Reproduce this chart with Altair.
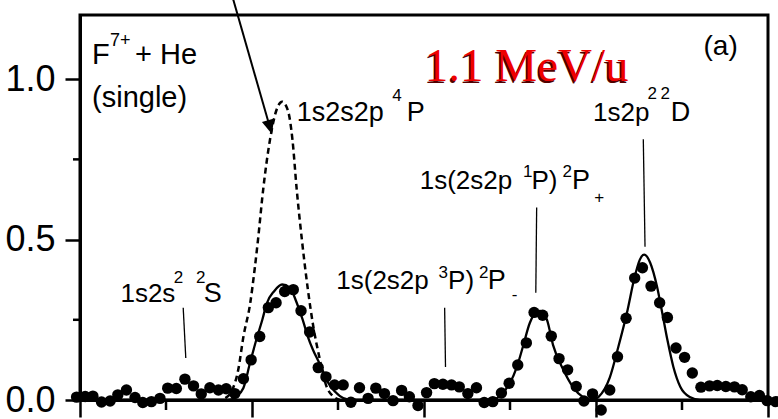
import altair as alt
import pandas as pd

# ---------------- data ----------------
dot_x = [-0.04, 0.06, 0.15, 0.25, 0.35, 0.44, 0.54, 0.64, 0.73, 0.83,
         0.93, 1.02, 1.12, 1.22, 1.32, 1.41, 1.51, 1.61, 1.70, 1.80,
         1.90, 1.99, 2.09, 2.19, 2.28, 2.38, 2.48, 2.57, 2.67, 2.77,
         2.86, 2.96, 3.06, 3.15, 3.25, 3.35, 3.44, 3.54, 3.64, 3.74,
         3.83, 3.93, 4.03, 4.12, 4.22, 4.32, 4.41, 4.51, 4.61, 4.70,
         4.80, 4.90, 4.99, 5.09, 5.19, 5.28, 5.38, 5.48, 5.57, 5.67,
         5.77, 5.86, 5.96, 6.06, 6.16, 6.25, 6.35, 6.45, 6.54, 6.64,
         6.74, 6.83, 6.93, 7.03, 7.12, 7.22, 7.32, 7.41, 7.51, 7.61,
         7.70, 7.80, 7.90, 7.99, 8.09]
dot_y = [0.009, 0.011, 0.012, -0.006, -0.003, 0.016, 0.031, 0.008, -0.008, -0.005,
         0.005, 0.037, 0.036, 0.065, 0.044, 0.019, 0.038, 0.031, 0.035, 0.020,
         0.066, 0.125, 0.198, 0.288, 0.303, 0.338, 0.344, 0.278, 0.212, 0.101,
         0.072, 0.047, 0.047, -0.007, 0.038, 0.005, 0.037, 0.020, -0.002, 0.030,
         0.010, -0.017, 0.023, 0.051, 0.049, 0.047, 0.041, 0.020, 0.038, -0.008,
         -0.005, 0.022, 0.052, 0.109, 0.178, 0.273, 0.264, 0.199, 0.129, 0.094,
         0.042, -0.003, 0.019, -0.031, 0.031, 0.135, 0.255, 0.380, 0.412, 0.355,
         0.303, 0.257, 0.162, 0.133, 0.084, 0.040, 0.044, 0.045, 0.042, 0.041,
         0.032, 0.010, 0.014, -0.002, -0.005]

fit_x = [-0.05, 1.72, 1.81, 1.90, 1.98, 2.06, 2.12, 2.17, 2.26, 2.35,
         2.44, 2.52, 2.59, 2.65, 2.71, 2.77, 2.83, 2.88, 2.97, 3.06,
         3.16, 4.80, 4.88, 5.00, 5.08, 5.15, 5.23, 5.31, 5.35, 5.43,
         5.50, 5.62, 5.73, 5.85, 5.95, 6.03, 6.16, 6.26, 6.36, 6.45,
         6.51, 6.56, 6.63, 6.71, 6.77, 6.83, 6.90, 6.98, 7.09, 7.21, 8.0]
fit_y = [0, 0, 0.009, 0.0375, 0.119, 0.197, 0.25, 0.30, 0.34, 0.36,
         0.35, 0.303, 0.25, 0.197, 0.156, 0.122, 0.0875, 0.056, 0.025, 0.006,
         0, 0, 0.0125, 0.053, 0.103, 0.166, 0.24, 0.275, 0.278, 0.25,
         0.172, 0.094, 0.041, 0.009, 0, 0.01, 0.07, 0.166, 0.272, 0.384,
         0.4375, 0.453, 0.428, 0.353, 0.272, 0.1875, 0.103, 0.041, 0.009, 0, 0]

dash_x = [1.69, 1.77, 1.84, 1.90, 1.98, 2.03, 2.07, 2.13, 2.21, 2.28, 2.35,
          2.42, 2.47, 2.52, 2.58, 2.65, 2.71, 2.79, 2.86, 2.94, 3.02]
dash_y = [0.006, 0.031, 0.094, 0.197, 0.303, 0.406, 0.5, 0.656, 0.8125, 0.90, 0.93,
          0.90, 0.8125, 0.656, 0.5, 0.344, 0.234, 0.125, 0.047, 0.0125, 0]

# marker lines under the level labels
mark_x1 = [1.20, 4.24, 5.31, 6.55]
mark_y1 = [0.2875, 0.2875, 0.60, 0.8125]
mark_x2 = [1.23, 4.25, 5.30, 6.57]
mark_y2 = [0.131, 0.103, 0.334, 0.478]

# arrow (start, tip)
arrow_x = [1.78, 2.215]
arrow_y = [1.25, 0.844]
head_x = [2.233]
head_y = [0.828]

# text pieces (normal, superscript and subscript parts)
lab_text = ["F", "7+", "+ He", "(single)", "(a)",
            "1s2s2p", "4", "P",
            "1s2p", "2", "2", "D",
            "1s(2s2p", "1", "P)", "2", "P", "+",
            "1s(2s2p", "3", "P)", "2", "P", "-",
            "1s2s", "2", "2", "S"]
lab_x = [0.14, 0.35, 0.64, 0.14, 7.25,
         2.52, 3.63, 3.80,
         5.965, 6.60, 6.75, 6.87,
         3.95, 5.15, 5.25, 5.61, 5.72, 5.98,
         2.98, 4.17, 4.28, 4.64, 4.74, 5.02,
         0.47, 1.09, 1.35, 1.44]
lab_y = [1.047, 1.103, 1.047, 0.9125, 1.075,
         0.869, 0.931, 0.869,
         0.869, 0.9375, 0.9375, 0.869,
         0.659, 0.694, 0.659, 0.694, 0.659, 0.6125,
         0.347, 0.381, 0.347, 0.381, 0.347, 0.3125,
         0.306, 0.366, 0.366, 0.306]
lab_size = [29, 18, 29, 29, 28,
            27, 17, 27,
            26, 17, 17, 27,
            26, 17, 26, 17, 27, 17,
            26, 17, 26, 17, 27, 17,
            26, 17, 17, 27]

energy_text = ["1.1 MeV/u"]
energy_x = [4.01]
energy_y = [0.994]

x_major = [0, 2, 4, 6, 8]
x_minor = [1, 3, 5, 7]
y_major = [0.0, 0.5, 1.0]
y_minor = [0.25, 0.75]

# ---------------- chart ----------------
FONT = "Liberation Sans"

xs = alt.Scale(domain=[0, 8], nice=False, zero=False)
ys = alt.Scale(domain=[0, 1.2], nice=False, zero=False)

X = alt.X("x:Q", scale=xs, title=None,
          axis=alt.Axis(values=x_major, labels=False, tickSize=17, tickWidth=2.5,
                        tickColor="black", domainColor="black", domainWidth=3,
                        grid=False, title=None))
Y = alt.Y("y:Q", scale=ys, title=None,
          axis=alt.Axis(values=y_major, format=".1f", tickSize=15, tickWidth=2.5,
                        tickColor="black", domainColor="black", domainWidth=3,
                        labelFont=FONT, labelFontSize=36, labelColor="black",
                        labelPadding=10, grid=False, title=None))

dots_df = pd.DataFrame({"x": dot_x, "y": dot_y})
fit_df = pd.DataFrame({"x": fit_x, "y": fit_y})
dash_df = pd.DataFrame({"x": dash_x, "y": dash_y})
marks_df = pd.DataFrame({"x": mark_x1, "y": mark_y1, "x2": mark_x2, "y2": mark_y2})
arrow_df = pd.DataFrame({"x": arrow_x, "y": arrow_y})
head_df = pd.DataFrame({"x": head_x, "y": head_y})
lab_df = pd.DataFrame({"x": lab_x, "y": lab_y, "t": lab_text, "s": lab_size})
en_df = pd.DataFrame({"x": energy_x, "y": energy_y, "t": energy_text})
xmin_df = pd.DataFrame({"x": x_minor})
ymin_df = pd.DataFrame({"y": y_minor})

fit = alt.Chart(fit_df).mark_line(color="black", strokeWidth=2.3,
                                  interpolate="monotone").encode(x=X, y=Y)
dash = alt.Chart(dash_df).mark_line(color="black", strokeWidth=2.5, strokeDash=[6, 4],
                                    interpolate="monotone").encode(x=X, y=Y)
dots = alt.Chart(dots_df).mark_circle(color="black", size=130, opacity=1).encode(x=X, y=Y)

markers = alt.Chart(marks_df).mark_rule(color="black", strokeWidth=1.3).encode(
    x=X, y=Y, x2="x2:Q", y2="y2:Q")

arrow = alt.Chart(arrow_df).mark_line(color="black", strokeWidth=2).encode(x=X, y=Y)
head = alt.Chart(head_df).mark_point(shape="M0,0L-0.6,-1.4L0.6,-1.4Z", filled=True,
                                     size=441, angle=344, color="black",
                                     opacity=1).encode(x=X, y=Y)

labels = alt.Chart(lab_df).mark_text(align="left", baseline="alphabetic", font=FONT,
                                     color="black").encode(
    x=X, y=Y, text="t:N", size=alt.Size("s:Q", scale=None, legend=None))

en_shadow = alt.Chart(en_df).mark_text(align="left", baseline="alphabetic",
                                       font="Liberation Serif", fontSize=47,
                                       color="#500000", dx=-1.5, dy=1.5).encode(
    x=X, y=Y, text="t:N")
en_text = alt.Chart(en_df).mark_text(align="left", baseline="alphabetic",
                                     font="Liberation Serif", fontSize=47,
                                     color="#ee0000").encode(x=X, y=Y, text="t:N")

xminor = alt.Chart(xmin_df).mark_rule(color="black", strokeWidth=2.5).encode(
    x=X, y=alt.value(385), y2=alt.value(395))
yminor = alt.Chart(ymin_df).mark_rule(color="black", strokeWidth=2.5).encode(
    y=Y, x=alt.value(-7), x2=alt.value(0))

chart = alt.layer(
    fit, dash, dots, markers, arrow, head, labels, en_shadow, en_text, xminor, yminor
).properties(
    width=688, height=385,
    padding={"left": 80, "top": 15, "right": 10, "bottom": 19},
    autosize=alt.AutoSizeParams(type="none"),
    background="white",
).configure_view(stroke="black", strokeWidth=3)

chart.save("out.html", embed_options={"renderer": "svg", "actions": False})
